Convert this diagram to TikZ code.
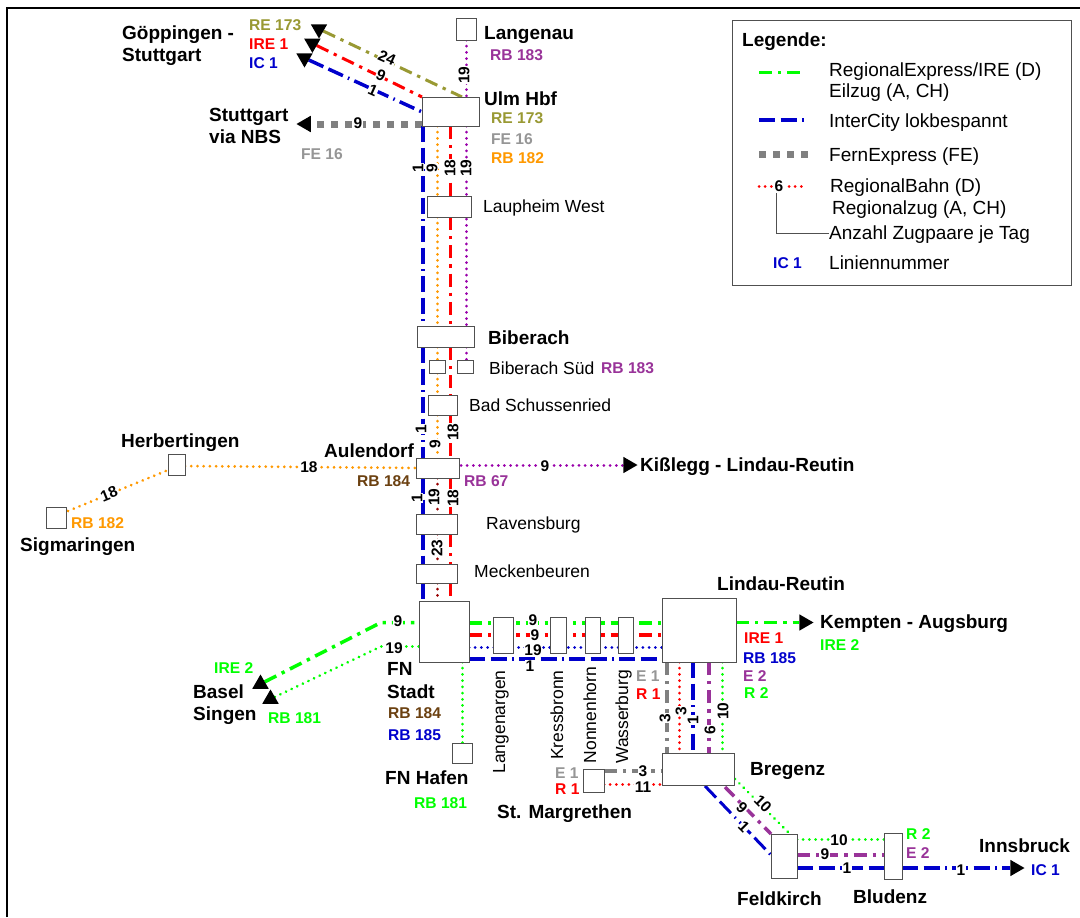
\documentclass[tikz,border=0pt]{standalone}
\usepackage{fontspec}
\setmainfont{Liberation Sans}
\usetikzlibrary{calc,shapes.geometric}
\pgfdeclarelayer{bg}
\pgfsetlayers{bg,main}
\definecolor{cgreen}{HTML}{00FF00}
\definecolor{cred}{HTML}{FF0000}
\definecolor{cblue}{HTML}{0000CC}
\definecolor{colive}{HTML}{999933}
\definecolor{cpurple}{HTML}{993399}
\definecolor{cmag}{HTML}{9900AA}
\definecolor{corange}{HTML}{FF9900}
\definecolor{cgray}{HTML}{808080}
\definecolor{clgray}{HTML}{969696}
\definecolor{cbrown}{HTML}{6B4010}
\definecolor{cdred}{HTML}{990000}
\definecolor{cbox}{HTML}{505050}
\tikzset{
  stbox/.style={draw=cbox,fill=white,line width=0.9pt,inner sep=0pt,outer sep=0pt},
  tipnode/.style={regular polygon,regular polygon sides=3,fill=black,minimum size=19pt,inner sep=0pt,outer sep=0pt},
  bold/.style={anchor=west,inner sep=0pt,text height=14.5pt,text depth=2.5pt,font=\fontsize{19}{21}\selectfont\bfseries},
  plain/.style={anchor=west,inner sep=0pt,text height=14.5pt,text depth=2.5pt,font=\fontsize{17.5}{20}\selectfont},
  leg/.style={anchor=west,inner sep=0pt,text height=14.5pt,text depth=2.5pt,font=\fontsize{19}{21}\selectfont},
  line label/.style={anchor=west,inner sep=0pt,text height=12pt,text depth=0.5pt,font=\fontsize{15.6}{18}\selectfont\bfseries},
  num/.style={fill=white,inner sep=0.6pt,font=\fontsize{15.5}{18}\selectfont\bfseries},
  exprdash/.style={line width=3pt,dash pattern=on 13pt off 6pt on 3.3pt off 6pt},
  icdash/.style={line width=3.5pt,draw=cblue,dash pattern=on 16pt off 5.5pt on 16pt off 5.5pt on 1.5pt off 5.5pt},
  fedash/.style={line width=7pt,draw=cgray,dash pattern=on 7pt off 7pt},
  dotline/.style={line width=3pt,line cap=round,dash pattern=on 0.01pt off 6.2pt},
}
\newcommand{\stn}[5]{%
  \pgfmathsetmacro{\stcx}{(#2+#4)/2}%
  \pgfmathsetmacro{\stcy}{(#3+#5)/2}%
  \node[stbox,minimum width={(#4-#2)*1pt},minimum height={(#5-#3)*1pt}] (#1) at (\stcx,\stcy) {};}
\begin{document}
\begin{tikzpicture}[x=1pt,y=-1pt]
\useasboundingbox (0,0) rectangle (1080,918);
% rails
\coordinate (xic) at (423,0);
\coordinate (xor) at (437,0);
\coordinate (xre) at (450.5,0);
\coordinate (xpu) at (466,0);
\coordinate (ygr) at (0,623);
\coordinate (yrd) at (0,635);
\coordinate (ybd) at (0,647);
\coordinate (ybl) at (0,659);
\coordinate (xbg) at (667,0);
\coordinate (xbr) at (679,0);
\coordinate (xbb) at (693,0);
\coordinate (xbp) at (709,0);
\coordinate (xbn) at (722,0);
\coordinate (ybu1) at (0,839);
\coordinate (ybu2) at (0,855);
\coordinate (ybu3) at (0,868);
\coordinate (ysg) at (0,771);
\coordinate (ysr) at (0,784);
\coordinate (frameTL) at (7,8);
\coordinate (frameTR) at (1080,8);
\coordinate (frameBL) at (7,917);
\coordinate (bendA) at (381,622.5);
\coordinate (bendB) at (381,646.5);
% stations
\stn{langenau}{456}{18}{476}{40}
\stn{ulm}{422}{97}{479}{126}
\stn{laupheim}{427}{196}{471}{217}
\stn{biberach}{417}{326}{474}{347}
\stn{bibsuedA}{429}{360}{445}{373}
\stn{bibsuedB}{457}{360}{473}{373}
\stn{schussen}{428}{395}{457}{415}
\stn{aulendorf}{416}{458}{459}{478}
\stn{ravensburg}{416}{514}{457}{534}
\stn{meckenb}{416}{564}{457}{583}
\stn{fnstadt}{419}{601}{469}{662}
\stn{langenargen}{493}{617}{513}{653}
\stn{kressbronn}{550}{617}{566}{653}
\stn{nonnenhorn}{585}{617}{600}{653}
\stn{wasserburg}{618}{617}{633}{653}
\stn{lindau}{662}{598}{736}{662}
\stn{bregenz}{662}{753}{734}{785}
\stn{margrethen}{583}{769}{604}{792}
\stn{fnhafen}{452}{743}{472}{763}
\stn{feldkirch}{771}{834}{797}{878}
\stn{bludenz}{884}{833}{902}{879}
\stn{herbertingen}{168}{454}{185}{475}
\stn{sigmaringen}{46}{507}{66}{528}
% arrow tips
\node[tipnode,rotate=180] (tipre) at (319,29) {};
\node[tipnode,rotate=180] (tipird) at (312.4,43.4) {};
\node[tipnode,rotate=180] (tipic) at (304.5,58) {};
\node[tipnode,rotate=90] (tipfe) at (306,124) {};
\node[tipnode,rotate=-90] (tipkis) at (628,465) {};
\node[tipnode,rotate=-90] (tipkem) at (804,622.5) {};
\node[tipnode,rotate=-90] (tipinn) at (1015,868) {};
\node[tipnode] (tipbas) at (260.5,684) {};
\node[tipnode] (tipsin) at (270.5,699) {};
% connectors
\begin{pgfonlayer}{bg}
\fill[white] (0,0) rectangle (1080,918);
\draw[black,line width=1.2pt] (frameBL) -- (frameTL) -- (frameTR);
\draw[exprdash,colive] (tipre) -- ($(ulm.north west)+(40,0)$);
\draw[exprdash,cred] (tipird) -- ($(ulm.north west)+(0,0)$);
\draw[icdash] (tipic) -- ($(ulm.west)+(-1,0)$);
\draw[fedash] (ulm.west |- tipfe) -- (tipfe);
\draw[dotline,cmag] (langenau.south -| xpu) -- (ulm.north -| xpu);
\draw[dotline,cmag] (ulm.south -| xpu) -- (laupheim.north -| xpu) -- (biberach.north -| xpu);
\draw[dotline,cmag] (biberach.south -| xpu) -- (bibsuedB.north -| xpu);
\draw[icdash] (ulm.south -| xic) -- (laupheim.north -| xic) -- (biberach.north -| xic);
\draw[icdash] (biberach.south -| xic) -- (aulendorf.north -| xic);
\draw[icdash] (aulendorf.south -| xic) -- (ravensburg.north -| xic);
\draw[icdash] (ravensburg.south -| xic) -- (meckenb.north -| xic);
\draw[icdash] (meckenb.south -| xic) -- (fnstadt.north -| xic);
\draw[dotline,corange] (ulm.south -| xor) -- (laupheim.north -| xor);
\draw[dotline,corange] (laupheim.south -| xor) -- (biberach.north -| xor);
\draw[dotline,corange] (biberach.south -| xor) -- (bibsuedA.north -| xor);
\draw[dotline,corange] (bibsuedA.south -| xor) -- (schussen.north -| xor);
\draw[dotline,corange] (schussen.south -| xor) -- (aulendorf.north -| xor);
\draw[dotline,cdred] (aulendorf.south -| xor) -- (ravensburg.north -| xor);
\draw[dotline,cdred] (ravensburg.south -| xor) -- (meckenb.north -| xor);
\draw[dotline,cdred] (meckenb.south -| xor) -- (fnstadt.north -| xor);
\draw[exprdash,cred] (ulm.south -| xre) -- (laupheim.north -| xre);
\draw[exprdash,cred] (laupheim.south -| xre) -- (biberach.north -| xre);
\draw[exprdash,cred] (biberach.south -| xre) -- (schussen.north -| xre);
\draw[exprdash,cred] (schussen.south -| xre) -- (aulendorf.north -| xre);
\draw[exprdash,cred] (aulendorf.south -| xre) -- (ravensburg.north -| xre);
\draw[exprdash,cred] (ravensburg.south -| xre) -- (meckenb.north -| xre);
\draw[exprdash,cred] (meckenb.south -| xre) -- (fnstadt.north -| xre);
\draw[dotline,corange] ($(sigmaringen.north east)+(2,4)$) -- ($(herbertingen.west)+(-1,6)$);
\draw[dotline,corange] ($(herbertingen.east)+(0,1.5)$) -- (aulendorf.west);
\draw[dotline,cmag] ($(aulendorf.east)+(2,-3)$) -- (tipkis);
\draw[exprdash,cgreen,line width=3.5pt] (tipbas) -- (bendA) -- (fnstadt.west |- bendA);
\draw[dotline,cgreen] (tipsin) -- (bendB) -- (fnstadt.west |- bendB);
\draw[dotline,cgreen] (fnstadt.south -| fnhafen.north) -- (fnhafen.north);
\draw[exprdash,cgreen,line width=3.5pt] (fnstadt.east |- ygr) -- (lindau.west |- ygr);
\draw[exprdash,cred,line width=3.5pt] (fnstadt.east |- yrd) -- (lindau.west |- yrd);
\draw[dotline,cblue] (fnstadt.east |- ybd) -- (lindau.west |- ybd);
\draw[icdash] (fnstadt.east |- ybl) -- (lindau.west |- ybl);
\draw[exprdash,cgreen,line width=3.5pt] (lindau.east |- tipkem) -- (tipkem);
\draw[exprdash,cgray,line width=3.5pt] (lindau.south -| xbg) -- (bregenz.north -| xbg);
\draw[dotline,cred] (lindau.south -| xbr) -- (bregenz.north -| xbr);
\draw[icdash] (lindau.south -| xbb) -- (bregenz.north -| xbb);
\draw[exprdash,cpurple,line width=3.5pt] (lindau.south -| xbp) -- (bregenz.north -| xbp);
\draw[dotline,cgreen] (lindau.south -| xbn) -- (bregenz.north -| xbn);
\draw[exprdash,cgray,line width=3.5pt] (margrethen.east |- ysg) -- (bregenz.west |- ysg);
\draw[dotline,cred] (margrethen.east |- ysr) -- (bregenz.west |- ysr);
\draw[icdash,line width=3pt] ($(bregenz.south)+(7,1)$) -- ($(feldkirch.west)+(0,-1)$);
\draw[exprdash,cpurple,line width=3.5pt] ($(bregenz.south east)+(-9,2)$) -- (feldkirch.north west);
\draw[dotline,cgreen] ($(bregenz.south east)+(1,-6)$) -- ($(feldkirch.north east)+(-7,0)$);
\draw[dotline,cgreen] (feldkirch.east |- ybu1) -- (bludenz.west |- ybu1);
\draw[exprdash,cpurple,line width=3.5pt] (feldkirch.east |- ybu2) -- (bludenz.west |- ybu2);
\draw[icdash] (feldkirch.east |- ybu3) -- (bludenz.west |- ybu3);
\draw[icdash] (bludenz.east |- tipinn) -- (tipinn);
\end{pgfonlayer}
% numbers on lines
\node[num,rotate=90] (n01) at (464,75) {19};
\node[num,rotate=-24] (n02) at (387,58) {24};
\node[num,rotate=-24] (n03) at (381,75) {9};
\node[num,rotate=-24] (n04) at (373,90) {1};
\node[num] (n05) at (358,123) {9};
\node[num,rotate=90] (n06) at (418,168) {1};
\node[num,rotate=90] (n07) at (432,168) {9};
\node[num,rotate=90] (n08) at (450,168) {18};
\node[num,rotate=90] (n09) at (466,168) {19};
\node[num,rotate=90] (n10) at (421,429) {1};
\node[num,rotate=90] (n11) at (435,444) {9};
\node[num,rotate=90] (n12) at (453,432) {18};
\node[num,rotate=90] (n13) at (417,498) {1};
\node[num,rotate=90] (n14) at (434,497) {19};
\node[num,rotate=90] (n15) at (453,498) {18};
\node[num,rotate=90] (n16) at (437,548) {23};
\node[num] (n17) at (545,466) {9};
\node[num] (n18) at (309,467) {18};
\node[num,rotate=22] (n19) at (109,494) {18};
\node[num] (n20) at (398,621) {9};
\node[num] (n21) at (394,648) {19};
\node[num] (n22) at (533,620) {9};
\node[num] (n23) at (535,635) {9};
\node[num] (n24) at (533,650) {19};
\node[num] (n25) at (530,666) {1};
\node[num,rotate=90] (n26) at (665,718) {3};
\node[num,rotate=90] (n27) at (681,711) {3};
\node[num,rotate=90] (n28) at (693,720) {1};
\node[num,rotate=90] (n29) at (710,730) {6};
\node[num,rotate=90] (n30) at (723,711) {10};
\node[num] (n31) at (643,771) {3};
\node[num] (n32) at (643,787) {11};
\node[num,rotate=-45] (n33) at (763,804) {10};
\node[num,rotate=-45] (n34) at (742,808) {9};
\node[num,rotate=-45] (n35) at (744,827) {1};
\node[num] (n36) at (839,840) {10};
\node[num] (n37) at (825,854) {9};
\node[num] (n38) at (847,868) {1};
\node[num] (n39) at (961,870) {1};
% station names
\node[bold] (t01) at (122,33) {Göppingen -};
\node[bold] (t02) at (122,55) {Stuttgart};
\node[bold] (t03) at (484,33) {Langenau};
\node[bold] (t04) at (484,99) {Ulm Hbf};
\node[bold] (t05) at (209,115) {Stuttgart};
\node[bold] (t06) at (209,137) {via NBS};
\node[bold] (t07) at (488,338) {Biberach};
\node[bold] (t08) at (324,451) {Aulendorf};
\node[bold] (t09) at (640,465) {Kißlegg - Lindau-Reutin};
\node[bold] (t10) at (121,441) {Herbertingen};
\node[bold] (t11) at (20,545) {Sigmaringen};
\node[bold] (t12) at (193,692) {Basel};
\node[bold] (t13) at (193,714) {Singen};
\node[bold] (t14) at (387,669) {FN};
\node[bold] (t15) at (387,692) {Stadt};
\node[bold] (t16) at (385,778) {FN Hafen};
\node[bold] (t17) at (497,812) {St. Margrethen};
\node[bold] (t18) at (717,584) {Lindau-Reutin};
\node[bold] (t19) at (820,622) {Kempten - Augsburg};
\node[bold] (t20) at (750,769) {Bregenz};
\node[bold] (t21) at (737,899) {Feldkirch};
\node[bold] (t22) at (853,897) {Bludenz};
\node[bold] (t23) at (979,846) {Innsbruck};
\node[plain] (p01) at (483,206) {Laupheim West};
\node[plain] (p02) at (489,368) {Biberach Süd};
\node[plain] (p03) at (469,405) {Bad Schussenried};
\node[plain] (p04) at (486,523) {Ravensburg};
\node[plain] (p05) at (474,571) {Meckenbeuren};
\node[plain,anchor=center,rotate=90] (p06) at (499,722) {Langenargen};
\node[plain,anchor=center,rotate=90] (p07) at (557,715) {Kressbronn};
\node[plain,anchor=center,rotate=90] (p08) at (590,715) {Nonnenhorn};
\node[plain,anchor=center,rotate=90] (p09) at (622,717) {Wasserburg};
% line numbers
\node[line label,text=colive] (c01) at (249,25) {RE 173};
\node[line label,text=cred] (c02) at (249,44) {IRE 1};
\node[line label,text=cblue] (c03) at (249,63) {IC 1};
\node[line label,text=cpurple] (c04) at (490,55) {RB 183};
\node[line label,text=colive] (c05) at (491,118) {RE 173};
\node[line label,text=clgray] (c06) at (491,139) {FE 16};
\node[line label,text=corange] (c07) at (491,158) {RB 182};
\node[line label,text=clgray] (c08) at (301,154) {FE 16};
\node[line label,text=cpurple] (c09) at (601,368) {RB 183};
\node[line label,text=cbrown] (c10) at (357,481) {RB 184};
\node[line label,text=cpurple] (c11) at (464,481) {RB 67};
\node[line label,text=corange] (c12) at (71,523) {RB 182};
\node[line label,text=cgreen] (c13) at (214,668) {IRE 2};
\node[line label,text=cgreen] (c14) at (268,718) {RB 181};
\node[line label,text=cbrown] (c15) at (388,713) {RB 184};
\node[line label,text=cblue] (c16) at (388,735) {RB 185};
\node[line label,text=cgreen] (c17) at (414,803) {RB 181};
\node[line label,text=clgray] (c18) at (636,676) {E 1};
\node[line label,text=cred] (c19) at (636,694) {R 1};
\node[line label,text=clgray] (c20) at (555,773) {E 1};
\node[line label,text=cred] (c21) at (555,789) {R 1};
\node[line label,text=cred] (c22) at (744,638) {IRE 1};
\node[line label,text=cblue] (c23) at (743,658) {RB 185};
\node[line label,text=cpurple] (c24) at (743,676) {E 2};
\node[line label,text=cgreen] (c25) at (744,693) {R 2};
\node[line label,text=cgreen] (c26) at (820,645) {IRE 2};
\node[line label,text=cgreen] (c27) at (906,834) {R 2};
\node[line label,text=cpurple] (c28) at (906,853) {E 2};
\node[line label,text=cblue] (c29) at (1031,870) {IC 1};
% legend
\node[draw=cbox,fill=white,line width=1pt,inner sep=0pt,outer sep=0pt,minimum width=339pt,minimum height=265pt] (legend) at (901.5,152.5) {};
\node[bold] (l00) at (742,40) {Legende:};
\coordinate (la1) at (759,72); \coordinate (la2) at (803,72);
\coordinate (lb1) at (759,120); \coordinate (lb2) at (806,120);
\coordinate (lc1) at (759,154); \coordinate (lc2) at (809,154);
\coordinate (ld1) at (759,186); \coordinate (ld2) at (772,186);
\coordinate (ld3) at (789,186); \coordinate (ld4) at (806,186);
\draw[exprdash,cgreen] (la1) -- (la2);
\draw[icdash] (lb1) -- (lb2);
\draw[fedash] (lc1) -- (lc2);
\draw[dotline,cred] (ld1) -- (ld2);
\draw[dotline,cred] (ld3) -- (ld4);
\node[num,fill=none] (l6) at (779,186) {6};
\node[leg] (l01) at (829,70) {RegionalExpress/IRE (D)};
\node[leg] (l02) at (829,91) {Eilzug (A, CH)};
\node[leg] (l03) at (829,121) {InterCity lokbespannt};
\node[leg] (l04) at (829,155) {FernExpress (FE)};
\node[leg] (l05) at (830,186) {RegionalBahn (D)};
\node[leg] (l06) at (832,208) {Regionalzug (A, CH)};
\node[leg] (l07) at (829,233) {Anzahl Zugpaare je Tag};
\node[leg] (l08) at (829,263) {Liniennummer};
\node[line label,text=cblue] (l09) at (773,263) {IC 1};
\draw[cbox,line width=1pt] ($(l6.south)+(-3,1)$) |- (l07.west);
\end{tikzpicture}
\end{document}
